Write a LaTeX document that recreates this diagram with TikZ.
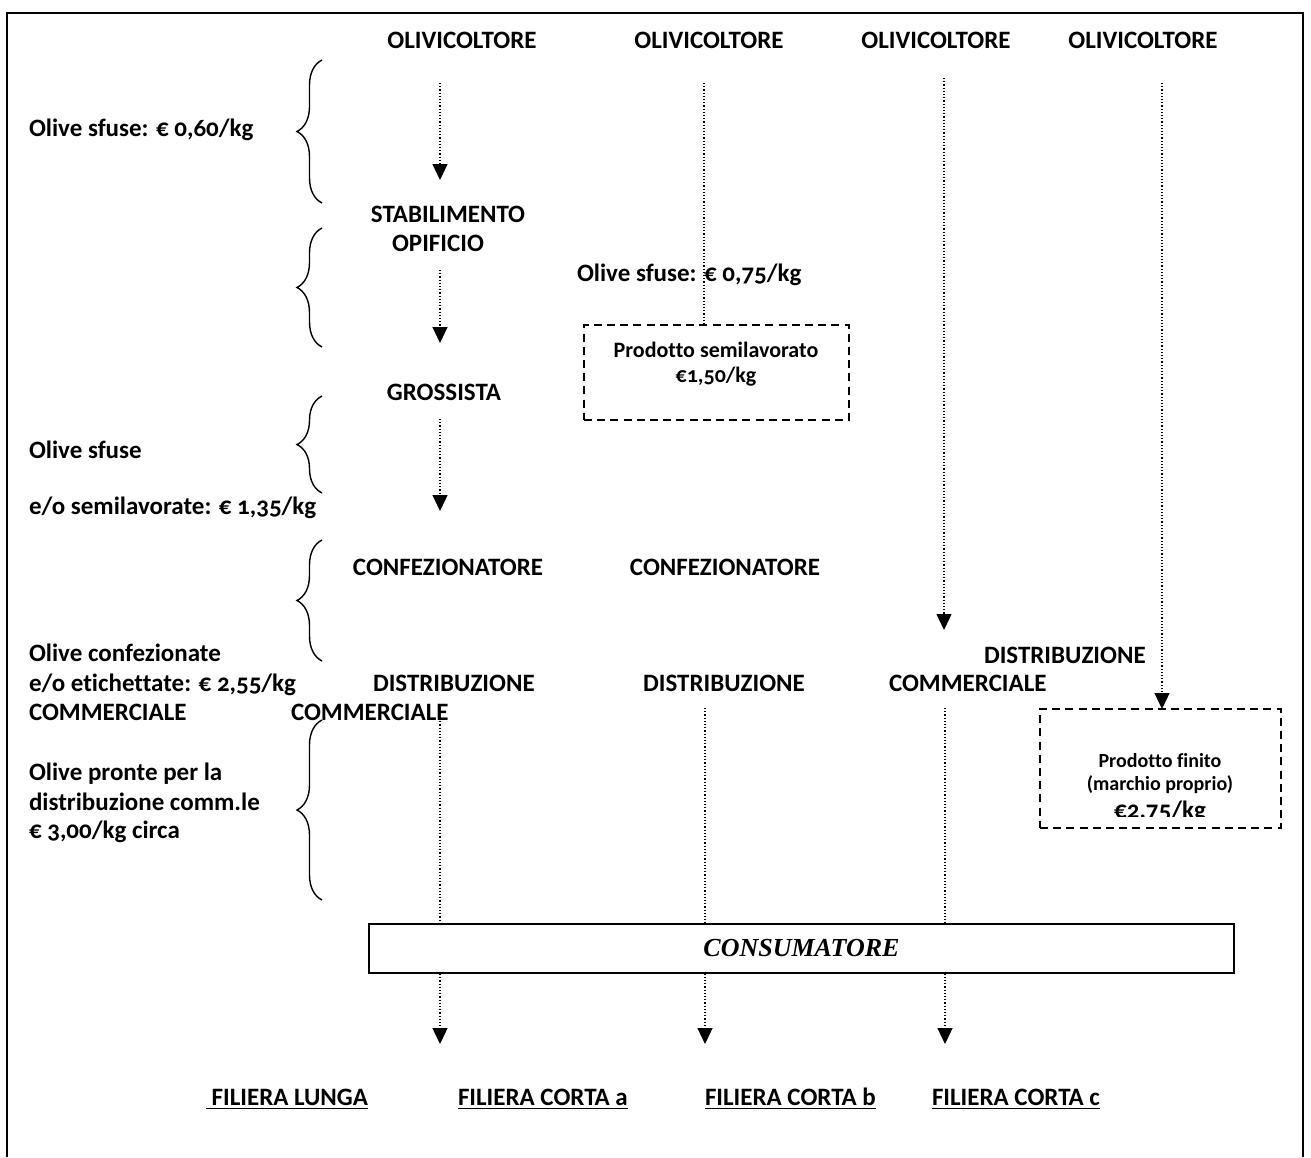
\documentclass[tikz,border=0pt]{standalone}
\usepackage{fontspec}
\setmainfont{Carlito}[Numbers=OldStyle, Ligatures=NoCommon]
\newfontfamily\consfont{Liberation Serif}
\usetikzlibrary{arrows.meta,decorations.pathreplacing}
\begin{document}
\begin{tikzpicture}[x=0.5pt,y=-0.5pt,
  every node/.style={inner sep=0pt, outer sep=0pt},
  lbl/.style={font=\fontsize{12.5}{14.25}\selectfont\bfseries, text height=8pt, text depth=0pt},
  sml/.style={font=\fontsize{11}{12.5}\selectfont\bfseries, text height=7pt, text depth=0pt},
  tiny/.style={font=\fontsize{10}{11.75}\selectfont\bfseries, text height=6.4pt, text depth=0pt},
  flow/.style={densely dotted, line width=0.6pt, -{Triangle[width=7.5pt,length=8pt]}},
  plainflow/.style={densely dotted, line width=0.6pt},
  dbox/.style={draw, dash pattern=on 4pt off 2.6pt, line width=0.9pt},
  brc/.style={decorate, decoration={brace, amplitude=12.5pt}, line width=0.7pt},
]
\useasboundingbox (0,0) rectangle (1311,1157);
% frame
\draw[line width=1.1pt] (7,1157) -- (7,13) -- (1303,13) -- (1303,1157);

% top producers
\node[lbl] (o1) at (462,40) {OLIVICOLTORE};
\node[lbl] (o2) at (709,40) {OLIVICOLTORE};
\node[lbl] (o3) at (936,40) {OLIVICOLTORE};
\node[lbl] (o4) at (1143,40) {OLIVICOLTORE};

% left labels
\node[lbl,anchor=west] (l1) at (29,128) {Olive sfuse: € 0,60/kg};
\node[lbl,anchor=west] (l2) at (29,450) {Olive sfuse};
\node[lbl,anchor=west] (l3) at (29,506) {e/o semilavorate: € 1,35/kg};
\node[lbl,anchor=west] (l4a) at (29,653) {Olive confezionate};
\node[lbl,anchor=west] (l4b) at (29,683) {e/o etichettate: € 2,55/kg};
\node[lbl,anchor=west] (l4c) at (29,712) {COMMERCIALE};
\node[lbl,anchor=west] (l5a) at (29,772) {Olive pronte per la};
\node[lbl,anchor=west] (l5b) at (29,802) {distribuzione comm.le};
\node[lbl,anchor=west] (l5c) at (29,830) {€ 3,00/kg circa};

% chain labels
\node[lbl] (stab) at (448,214) {STABILIMENTO};
\node[lbl] (opif) at (438,243) {OPIFICIO};
\node[lbl,anchor=west] (l075) at (577,273) {Olive sfuse: € 0,75/kg};
\node[lbl] (gross) at (444,392) {GROSSISTA};
\node[lbl] (conf1) at (448,567) {CONFEZIONATORE};
\node[lbl] (conf2) at (725,567) {CONFEZIONATORE};
\node[lbl,anchor=west] (d1) at (373,683) {DISTRIBUZIONE};
\node[lbl,anchor=west] (c1) at (291,712) {COMMERCIALE};
\node[lbl] (d2) at (724,683) {DISTRIBUZIONE};
\node[lbl,anchor=west] (d3) at (984,655) {DISTRIBUZIONE};
\node[lbl,anchor=west] (c3) at (889,683) {COMMERCIALE};

% dashed boxes
\node[dbox, minimum width=132.5pt, minimum height=47.5pt] (sl) at (716.5,372.5) {};
\node[sml] (slt1) at (716,350) {Prodotto semilavorato};
\node[sml] (slt2) at (716,375) {€1,50/kg};
\node[dbox, minimum width=120.5pt, minimum height=59.5pt] (pf) at (1160.5,768.5) {};
\begin{scope}
\clip (1040,700) rectangle (1282,816);
\node[tiny] (pft1) at (1160,761) {Prodotto finito};
\node[tiny] (pft2) at (1160,784) {(marchio proprio)};
\node[lbl] (pft3) at (1160,810) {€2,75/kg};
\end{scope}

% braces
\draw[brc] (322,203) -- (322,60);
\draw[brc] (322,347) -- (322,228);
\draw[brc] (322,493) -- (322,396);
\draw[brc] (322,661) -- (322,540);
\draw[brc] (322,900) -- (322,720);

% flow coordinates
\coordinate (a1s) at (440,83);  \coordinate (a1e) at (440,180);
\coordinate (a2s) at (440,270); \coordinate (a2e) at (440,343);
\coordinate (a3s) at (440,419); \coordinate (a3e) at (440,511);
\coordinate (a4s) at (440,718); \coordinate (a4e) at (440,1044);
\coordinate (b1s) at (704,83);
\coordinate (b2s) at (705,708); \coordinate (b2e) at (705,1044);
\coordinate (c1s) at (944,78);  \coordinate (c1e) at (944,630);
\coordinate (c2s) at (945,708); \coordinate (c2e) at (945,1044);
\coordinate (e1s) at (1162,83);

\draw[flow] (a1s) -- (a1e);
\draw[flow] (a2s) -- (a2e);
\draw[flow] (a3s) -- (a3e);
\draw[flow] (a4s) -- (a4e);
\draw[plainflow] (b1s) -- (b1s |- sl.north);
\draw[flow] (b2s) -- (b2e);
\draw[flow] (c1s) -- (c1e);
\draw[flow] (c2s) -- (c2e);
\draw[flow] (e1s) -- (e1s |- pf.north);

% consumer
\node[draw, fill=white, line width=0.8pt, minimum width=432.5pt, minimum height=24.5pt,
      font=\consfont\fontsize{13}{15}\selectfont\bfseries\itshape] (cons) at (801.5,948.5) {CONSUMATORE};

% filiere
\node[lbl,anchor=west] (f1) at (206,1097) {\underline{\ FILIERA LUNGA}};
\node[lbl,anchor=west] (f2) at (458,1097) {\underline{FILIERA CORTA a}};
\node[lbl,anchor=west] (f3) at (705,1097) {\underline{FILIERA CORTA b}};
\node[lbl,anchor=west] (f4) at (932,1097) {\underline{FILIERA CORTA c}};
\end{tikzpicture}
\end{document}
